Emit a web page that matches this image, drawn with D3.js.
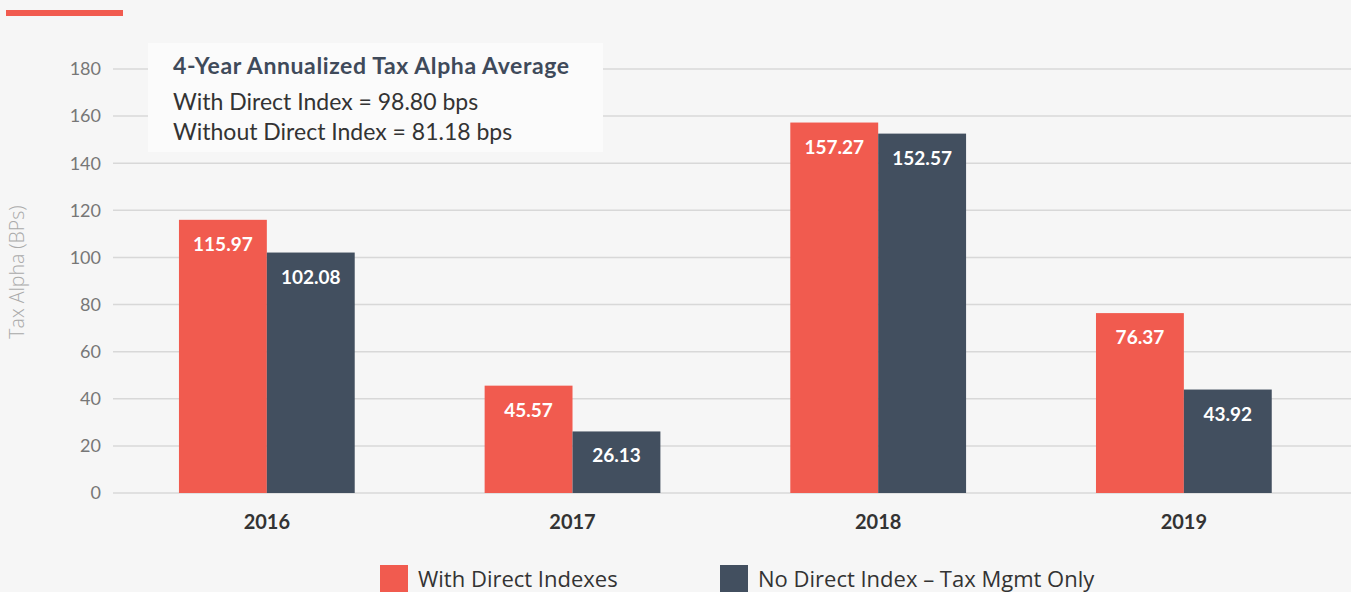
<!DOCTYPE html>
<html><head><meta charset="utf-8">
<script src="https://cdn.jsdelivr.net/npm/d3@7"></script>
<style>body{margin:0;background:#f6f6f6;}svg{display:block;font-family:Lato,"Open Sans",sans-serif;}</style>
</head><body><svg id="c" width="1351" height="592"></svg>
<script>
const categories = ["2016","2017","2018","2019"];
const seriesNames = ["With Direct Indexes","No Direct Index \u2013 Tax Mgmt Only"];
const withDirect = [115.97, 45.57, 157.27, 76.37];
const noDirect = [102.08, 26.13, 152.57, 43.92];
const yTicks = [0,20,40,60,80,100,120,140,160,180];
const boxTitle = "4-Year Annualized Tax Alpha Average";
const boxLines = ["With Direct Index = 98.80 bps","Without Direct Index = 81.18 bps"];
const colors = ["#f15b4f","#424f5f"];
const OS = "'Open Sans',sans-serif";

const svg = d3.select("#c");
svg.append("rect").attr("width",1351).attr("height",592).attr("fill","#f6f6f6");
svg.append("rect").attr("x",6).attr("y",10).attr("width",117).attr("height",6).attr("fill","#f15b4f");

const y = d3.scaleLinear().domain([0,180]).range([493,69]);
const x0 = d3.scaleBand().domain(categories).range([114,1336.7]).paddingInner(0.425).paddingOuter(0.2125);
const x1 = d3.scaleBand().domain([0,1]).range([0,x0.bandwidth()]);

// grid
svg.append("g").selectAll("line").data(yTicks).join("line")
  .attr("x1",113).attr("x2",1351).attr("y1",d=>y(d)).attr("y2",d=>y(d))
  .attr("stroke","#d8d8d8").attr("stroke-width",1.5);
svg.append("g").selectAll("text").data(yTicks).join("text")
  .attr("x",101).attr("y",d=>y(d)).attr("dy","0.35em").attr("text-anchor","end")
  .attr("font-size",18).attr("fill","#777").text(d=>d);
svg.append("text").attr("transform","translate(24,272) rotate(-90)").attr("text-anchor","middle")
  .attr("font-size",19.5).attr("font-family",OS).attr("font-weight",300).attr("fill","#aaa").text("Tax Alpha (BPs)");

const data = categories.map((c,i)=>({c, vals:[withDirect[i], noDirect[i]]}));
const g = svg.append("g").selectAll("g").data(data).join("g").attr("transform",d=>`translate(${x0(d.c)},0)`);
g.selectAll("rect").data(d=>d.vals.map((v,k)=>({v,k}))).join("rect")
  .attr("x",d=>x1(d.k)).attr("width",x1.bandwidth()).attr("y",d=>y(d.v)).attr("height",d=>y(0)-y(d.v))
  .attr("fill",d=>colors[d.k]);
g.selectAll("text").data(d=>d.vals.map((v,k)=>({v,k}))).join("text")
  .attr("x",d=>x1(d.k)+x1.bandwidth()/2).attr("y",d=>y(d.v)+31).attr("text-anchor","middle")
  .attr("font-size",19).attr("font-weight","bold").attr("fill","#fff").text(d=>d.v.toFixed(2));

svg.append("g").selectAll("text").data(categories).join("text")
  .attr("x",d=>x0(d)+x0.bandwidth()/2).attr("y",529).attr("text-anchor","middle")
  .attr("font-size",20).attr("font-weight","bold").attr("fill","#333").text(d=>d);

// annotation box
svg.append("rect").attr("x",148).attr("y",43).attr("width",455).attr("height",109).attr("fill","#fbfbfb");
svg.append("text").attr("x",173).attr("y",74).attr("font-size",23).attr("letter-spacing",0.6).attr("font-weight","bold").attr("fill","#3f4a5a").text(boxTitle);
svg.append("g").selectAll("text").data(boxLines).join("text")
  .attr("x",173).attr("y",(d,i)=>110+i*30).attr("font-size",23).attr("fill","#333").text(d=>d);

// legend
const legX = [380,720];
const lg = svg.append("g").selectAll("g").data(seriesNames).join("g").attr("transform",(d,i)=>`translate(${legX[i]},565)`);
lg.append("rect").attr("width",28).attr("height",28).attr("fill",(d,i)=>colors[i]);
lg.append("text").attr("x",38).attr("y",14).attr("dy","0.35em").attr("font-size",22).attr("font-family",OS).attr("fill","#333").text(d=>d);
</script></body></html>
